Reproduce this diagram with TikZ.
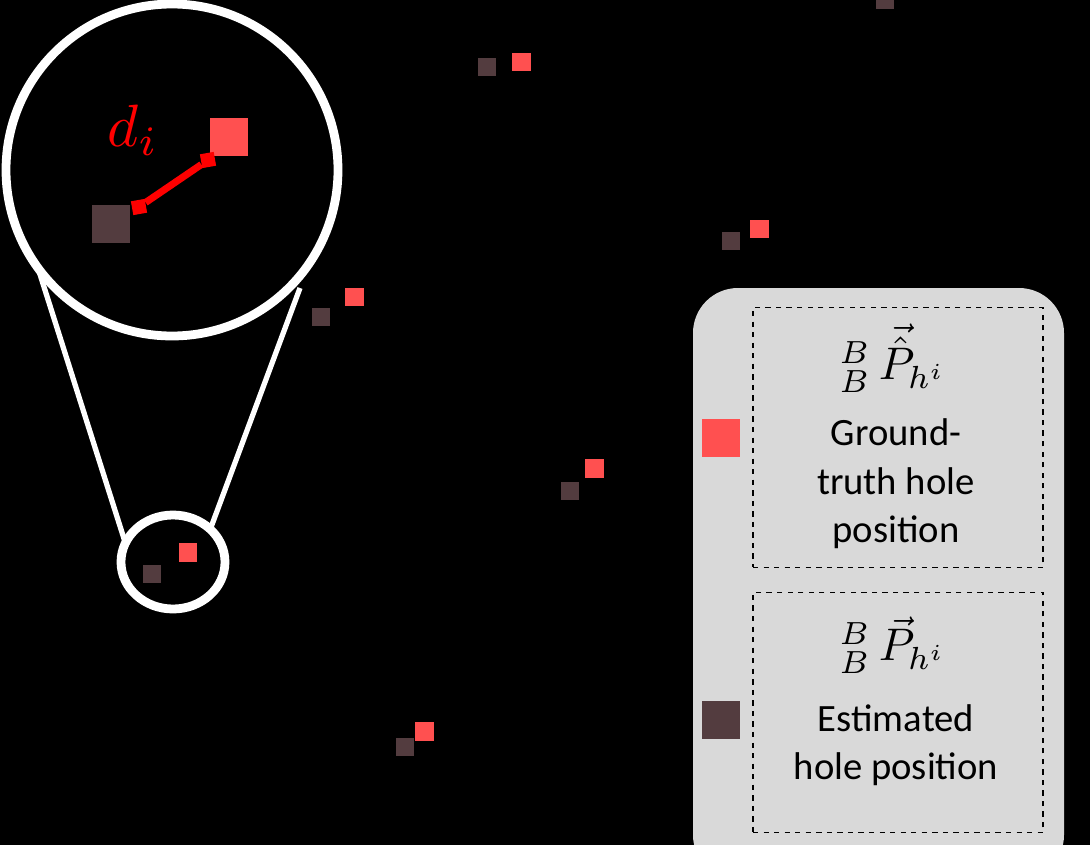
\documentclass[tikz,border=0pt]{standalone}
\usepackage{amssymb,amsmath}
\usepackage{fontspec}
\setmainfont{Carlito}
\usetikzlibrary{positioning}
\definecolor{gtred}{HTML}{FF5050}
\definecolor{estdark}{HTML}{533C3F}
\definecolor{legendgray}{HTML}{D9D9D9}

\begin{document}
\begin{tikzpicture}[
  x=0.02cm, y=-0.02cm,
  gtbox/.style={fill=gtred,minimum size=0.38cm,inner sep=0pt},
  estbox/.style={fill=estdark,minimum size=0.36cm,inner sep=0pt},
  bigbox/.style={minimum size=0.76cm,inner sep=0pt},
  tip/.style={fill=red,minimum size=0.28cm,inner sep=0pt,rotate=10},
  lens/.style={draw=white,line width=5pt},
  dbox/.style={draw,dashed,thick,minimum width=5.8cm,align=center,inner sep=0pt},
  txt/.style={font=\fontsize{22}{27.5}\selectfont,align=center}
]
\fill[black] (0,0) rectangle (1090,845);
\useasboundingbox (0,0) rectangle (1090,845);

% hole pairs
\node[estbox] (e0) at (885,0) {};
\node[estbox] (e1) at (487,67) {};  \node[gtbox] (g1) at (521,62) {};
\node[estbox] (e2) at (731,241) {}; \node[gtbox] (g2) at (759,229) {};
\node[estbox] (e3) at (321,317) {}; \node[gtbox] (g3) at (354,297) {};
\node[estbox] (e4) at (570,491) {}; \node[gtbox] (g4) at (594,468) {};
\node[estbox] (e5) at (152,574) {}; \node[gtbox] (g5) at (188,552) {};
\node[estbox] (e6) at (405,747) {}; \node[gtbox] (g6) at (424,731) {};

% magnifier
\coordinate (l1) at (38,268);  \coordinate (l2) at (126,545);
\coordinate (r1) at (300,288); \coordinate (r2) at (210,530);
\draw[white,line width=3pt] (l1) -- (l2) (r1) -- (r2);
\draw[lens,fill=black] (172,170) circle[radius=166];
\draw[lens] (173,562) ellipse[x radius=52, y radius=47];

\node[bigbox,fill=gtred] (G) at (229,137) {};
\node[bigbox,fill=estdark] (E) at (111,224) {};
\node[tip] (ta) at (139,207) {};
\node[tip] (tb) at (208,160) {};
\draw[red,line width=4pt] (ta) -- (tb);
\node[text=red] (d) at (133,130) {\scalebox{3.4}{$d_i$}};

% legend
\fill[legendgray,rounded corners=0.9cm] (693,288) rectangle (1064,880);
\node[dbox,minimum height=5.2cm] (lg) at (898,437.5) {};
\node[dbox,minimum height=4.8cm] (le) at (898,712.5) {};
\node (mg) at (893,358) {\scalebox{2.6}{${}^{B}_{B}\,\vec{\hat{P}}_{h^i}$}};
\node[txt] (tg) at (896,484) {Ground-\\truth hole\\position};
\node (me) at (893,645) {\scalebox{2.6}{${}^{B}_{B}\,\vec{P}_{h^i}$}};
\node[txt] (te) at (896,745) {Estimated\\hole position};
\node[bigbox,fill=gtred] (sg) at (721,438) {};
\node[bigbox,fill=estdark] (se) at (721,720) {};
\end{tikzpicture}
\end{document}
